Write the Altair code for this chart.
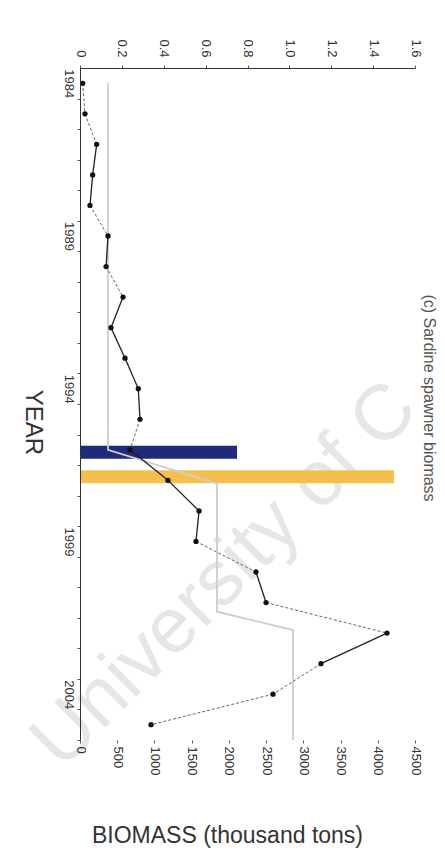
import altair as alt
import pandas as pd

# ---- data ----
years = list(range(1984, 2006))
biomass = [36, 67, 224, 170, 134, 376, 350, 578, 416, 605, 783, 806, 672,
           1182, 1599, 1558, 2364, 2499, 4124, 3237, 2593, 954]
# style of the segment that starts at each year (True = solid, False = dashed)
segment_solid = [False, False, True, True, False, True, False, True, True, True,
                 True, False, True, True, True, False, True, False, True, False, False]

mean_years = [1984, 1996, 1997.1, 2001.3, 2001.9, 2005.5]
mean_biomass = [376, 376, 1840, 1840, 2862, 2862]

bar_years = [1996.08, 1996.88]
bar_values = [0.75, 1.50]
bar_colors = ["#1f2a7a", "#f3c04f"]

top_ticks = [0, 0.2, 0.4, 0.6, 0.8, 1.0, 1.2, 1.4, 1.6]
bottom_ticks = [0, 500, 1000, 1500, 2000, 2500, 3000, 3500, 4000, 4500]
year_ticks = [1984 + 0.5 * k for k in range(44)]

title_text = "(c) Sardine spawner biomass"
watermark_text = "University of C"

FONT = "Liberation Sans"

pts = pd.DataFrame({"year": years, "biomass": biomass})
seg = pd.DataFrame({"year": years[:-1], "year2": years[1:],
                    "b": biomass[:-1], "b2": biomass[1:], "solid": segment_solid})
mean_df = pd.DataFrame({"year": mean_years, "b": mean_biomass})
bars = pd.DataFrame({"year": bar_years, "value": bar_values,
                     "start": [0, 0], "c": bar_colors})

yscale = alt.Scale(domain=[1983.5, 2005.5], reverse=True, nice=False, zero=False)
yaxis = alt.Axis(
    values=year_ticks,
    labelExpr="(datum.value % 1 == 0 && datum.value % 5 == 4) ? format(datum.value, 'd') : ''",
    labelAngle=90, labelAlign="center", labelBaseline="top", labelPadding=3,
    labelFontSize=13, labelColor="#333", labelFont=FONT,
    tickSize=3, tickColor="#555",
    tickOpacity={"condition": {"test": "datum.value % 1 != 0", "value": 1}, "value": 0},
    domainColor="#333", grid=False, zindex=1,
    title="YEAR", titleAngle=90, titleFontSize=24, titleFontWeight="normal",
    titleFont=FONT, titleColor="#333", titleX=-48, titleY=354,
    titleAlign="center", titleBaseline="middle",
)
y_enc = alt.Y("year:Q", scale=yscale, axis=yaxis)

bscale = alt.Scale(domain=[0, 4500], nice=False, zero=True)
bottom_axis = alt.Axis(
    orient="bottom", values=bottom_ticks, format="d",
    labelAngle=90, labelAlign="left", labelBaseline="middle", labelPadding=3,
    labelFontSize=13, labelColor="#333", labelFont=FONT,
    tickSize=3, tickColor="#555", domain=False, grid=False, zindex=1,
    title="BIOMASS (thousand tons)", titleFontSize=23, titleFontWeight="normal",
    titleFont=FONT, titleColor="#333", titleX=147, titleY=95,
    titleAlign="center", titleBaseline="middle",
)
top_axis = alt.Axis(
    orient="top", values=top_ticks,
    labelExpr="datum.value == 0 ? '0' : format(datum.value, '.1f')",
    labelAngle=90, labelAlign="right", labelBaseline="middle", labelPadding=8,
    labelFontSize=13, labelColor="#333", labelFont=FONT,
    tickSize=3, tickColor="#555", domainColor="#333", grid=False, title=None, zindex=1,
)

watermark = alt.Chart(pd.DataFrame({"t": [watermark_text]})).mark_text(
    font=FONT, fontSize=78, angle=315, align="left", baseline="alphabetic",
    color="#e6e6e6",
).encode(x=alt.value(-18), y=alt.value(703), text="t:N")

bar_layer = alt.Chart(bars).mark_rule(strokeWidth=13, strokeCap="butt").encode(
    x=alt.X("start:Q", scale=alt.Scale(domain=[0, 1.6], nice=False), axis=top_axis),
    x2="value:Q",
    y=y_enc,
    color=alt.Color("c:N", scale=None),
)

mean_layer = alt.Chart(mean_df).mark_line(color="#cdcdcd", strokeWidth=1.8).encode(
    x=alt.X("b:Q", scale=bscale, axis=None),
    y=y_enc,
    order="year:Q",
)

dashed_layer = alt.Chart(seg).transform_filter("!datum.solid").mark_rule(
    color="#666", strokeWidth=1, strokeDash=[3, 2]
).encode(
    x=alt.X("b:Q", scale=bscale, axis=None), x2="b2:Q",
    y=y_enc, y2="year2:Q",
)

solid_layer = alt.Chart(seg).transform_filter("datum.solid").mark_rule(
    color="#222", strokeWidth=1.3
).encode(
    x=alt.X("b:Q", scale=bscale, axis=None), x2="b2:Q",
    y=y_enc, y2="year2:Q",
)

point_layer = alt.Chart(pts).mark_circle(size=28, color="#111", opacity=1).encode(
    x=alt.X("biomass:Q", scale=bscale, axis=bottom_axis),
    y=y_enc,
)

title_layer = alt.Chart(pd.DataFrame({"t": [title_text]})).mark_text(
    font=FONT, fontSize=16, angle=90, align="center", baseline="middle",
    color="#555",
).encode(x=alt.value(349), y=alt.value(330), text="t:N")

chart = alt.layer(
    watermark, bar_layer, mean_layer, dashed_layer, solid_layer, point_layer, title_layer
).resolve_scale(x="independent").properties(
    width=335, height=672,
    padding={"left": 72, "top": 60, "right": 22, "bottom": 110},
    autosize=alt.AutoSizeParams(type="none"),
    background="white",
).configure_view(stroke=None)

chart.save("out.html", embed_options={"renderer": "svg", "actions": False})
